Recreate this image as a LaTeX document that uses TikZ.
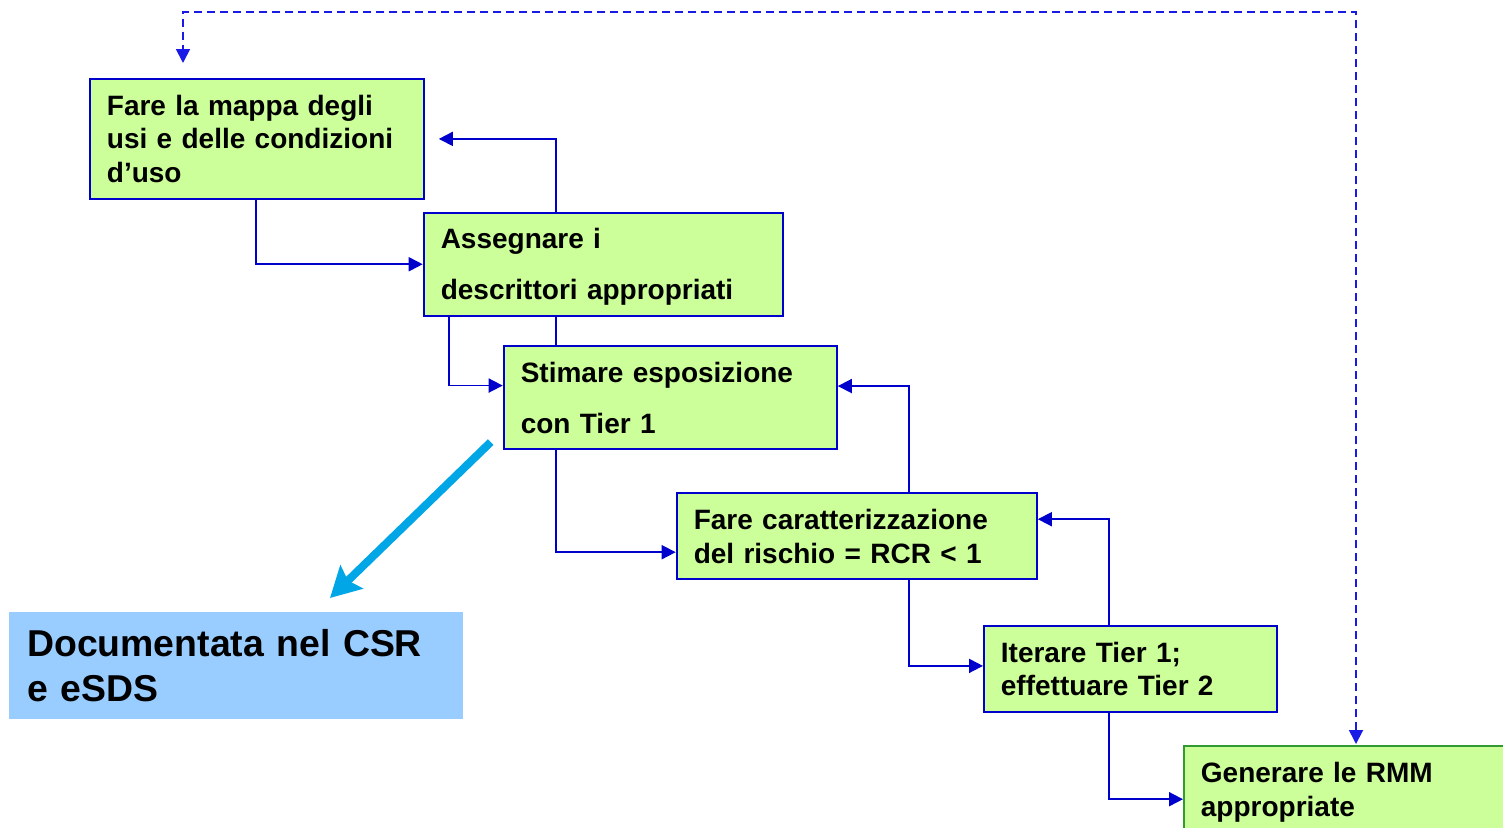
\documentclass[tikz,border=0pt]{standalone}
\usepackage{fontspec}
\setmainfont{Liberation Sans}
\usetikzlibrary{arrows.meta,backgrounds}
\definecolor{boxgreen}{HTML}{CCFF99}
\definecolor{lineblue}{HTML}{0000CC}
\definecolor{dashblue}{HTML}{1A1AE6}
\definecolor{rmmgreen}{HTML}{339933}
\definecolor{arrowcyan}{HTML}{00A6E6}
\definecolor{docblue}{HTML}{99CCFF}
\tikzset{
  stepbox/.style={draw=lineblue, line width=1.8pt, fill=boxgreen, anchor=north west,
    inner xsep=17pt, inner ysep=0pt, align=left,
    font=\bfseries\fontsize{28}{33.6}\selectfont},
  conn/.style={draw=lineblue, line width=1.8pt, -{Triangle[length=14pt,width=14pt]}},
  dashconn/.style={draw=dashblue, line width=1.8pt, dash pattern=on 8pt off 5pt,
    {Triangle[length=14pt,width=14pt]}-{Triangle[length=14pt,width=14pt]}},
}
\begin{document}
\begin{tikzpicture}[x=1pt,y=-1pt]
\useasboundingbox (0,0) rectangle (1503,827);
\clip (0,0) rectangle (1503,827);

\node[stepbox, minimum width=334pt, minimum height=120pt, text width=300pt] (b1) at (89,78)
  {Fare la mappa degli\\usi e delle condizioni\\d’uso};
\node[stepbox, minimum width=359.3pt, minimum height=103.3pt, text width=325pt, text depth=51pt,
  font=\bfseries\fontsize{28}{51}\selectfont] (b2) at (422.7,211.7)
  {Assegnare i\\descrittori appropriati};
\node[stepbox, minimum width=333.3pt, minimum height=103.3pt, text width=299pt,
  font=\bfseries\fontsize{28}{51}\selectfont] (b3) at (502.7,345)
  {Stimare esposizione\\con Tier 1};
\node[stepbox, minimum width=360.3pt, minimum height=86pt, text width=326pt] (b4) at (675.7,492.3)
  {Fare caratterizzazione\\del rischio = RCR < 1};
\node[stepbox, minimum width=293pt, minimum height=86pt, text width=259pt] (b5) at (983,625)
  {Iterare Tier 1;\\effettuare Tier 2};
\node[stepbox, draw=rmmgreen, minimum width=340pt, minimum height=92.6pt, text width=306pt] (b6) at (1183,745)
  {Generare le RMM\\appropriate};
\node[fill=docblue, anchor=north west, minimum width=454pt, minimum height=107pt,
  text width=418pt, inner xsep=18pt, inner ysep=0pt, align=left,
  font=\bfseries\fontsize{37.4}{44.9}\selectfont] (doc) at (9,612)
  {Documentata nel CSR\\e eSDS};

\coordinate (top) at (800,12);

\begin{scope}[on background layer]
\draw[conn] ([xshift=167pt]b1.south west) |- (b2.west);
\draw[conn, shorten >=14pt] ([xshift=53.3pt]b3.north west) |- (b1.east);
\draw[conn] ([xshift=26.3pt]b2.south west) |- ([yshift=12pt]b3.west);
\draw[conn] ([xshift=53.3pt]b3.south west) |- ([yshift=-16pt]b4.west);
\draw[conn] ([xshift=233.3pt]b4.north west) |- ([yshift=11.5pt]b3.east);
\draw[conn] ([xshift=233.3pt]b4.south west) |- ([yshift=3pt]b5.west);
\draw[conn] ([xshift=126pt]b5.north west) |- ([yshift=17pt]b4.east);
\draw[conn] ([xshift=126pt]b5.south west) |- ([yshift=-7pt]b6.west);
\draw[dashconn, shorten >=15pt, shorten <=1pt] ([xshift=173pt]b6.north west) |- (top) -| ([xshift=94pt]b1.north west);
\end{scope}

\draw[arrowcyan, line width=8pt, -{Stealth[length=30pt,width=32pt,inset=5pt]}]
  ([xshift=-12pt,yshift=8pt]b3.south west) -- ([xshift=321pt,yshift=14pt]doc.north west);
\end{tikzpicture}
\end{document}
